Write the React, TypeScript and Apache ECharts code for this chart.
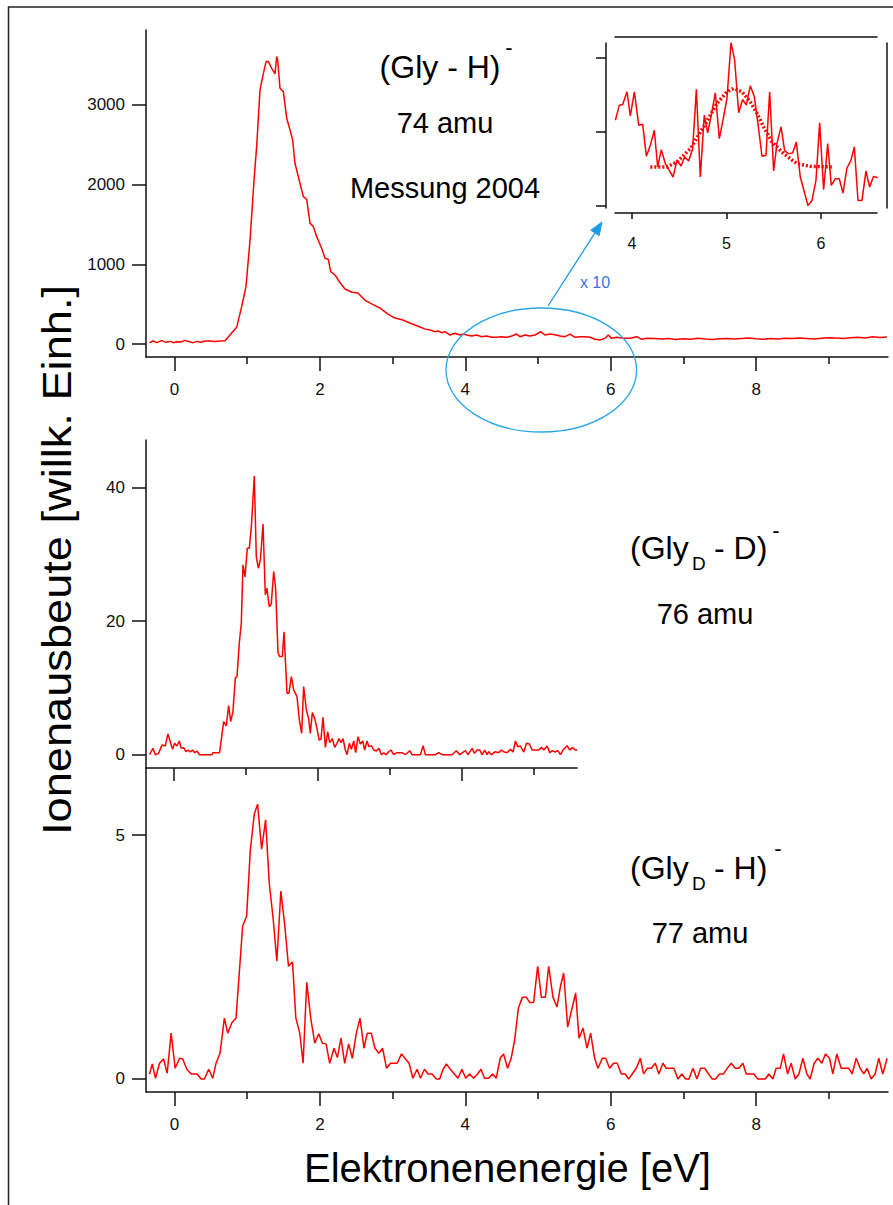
import React, { useEffect, useRef } from "react";
import * as echarts from "echarts";

const FONT = '"Liberation Sans", Arial, Helvetica, sans-serif';
const RED = "#ff0000";
const AX = "#111111";

// ---- Panel 1: (Gly - H)-, 74 amu ----
const topEnergy = [
  -0.346, -0.291, -0.245, -0.177, -0.117, -0.053, -0.016, 0.03, 0.085, 0.145, 0.204, 0.259, 0.314, 0.36, 0.42, 0.488, 0.557, 0.626, 0.695,
  0.763, 0.855, 0.924, 0.983, 1.039, 1.094, 1.13, 1.176, 1.213, 1.259, 1.291, 1.337, 1.382, 1.405, 1.419, 1.451, 1.497, 1.543, 1.589, 1.625,
  1.657, 1.703, 1.772, 1.818, 1.864, 1.91, 1.956, 2.024, 2.07, 2.116, 2.148, 2.208, 2.267,
  2.345, 2.442, 2.524, 2.62, 2.717, 2.827, 2.937, 3.033, 3.143, 3.239, 3.377, 3.44,
  3.514, 3.583, 3.629, 3.675, 3.721, 3.79, 3.858, 3.927, 3.973, 4.019, 4.088, 4.156, 4.225, 4.294, 4.363, 4.431, 4.5, 4.569, 4.638, 4.707,
  4.752, 4.821, 4.89, 4.959, 5.037, 5.096, 5.165, 5.234, 5.303, 5.371, 5.44, 5.509, 5.578, 5.647, 5.715, 5.784, 5.853, 5.922, 5.967, 6.014,
  6.083, 6.174, 6.265, 6.358, 6.426, 6.495,
  6.6, 6.7, 6.8, 6.9, 7.0, 7.1, 7.2, 7.3, 7.4, 7.5, 7.6, 7.7, 7.8, 7.9, 8.0, 8.1, 8.2, 8.3, 8.4, 8.5, 8.6, 8.7, 8.8, 8.9, 9.0, 9.1, 9.2,
  9.3, 9.4, 9.5, 9.6, 9.7, 9.8,
];
const topYield = [
  17, 38, 17, 42, 21, 33, 17, 29, 25, 46, 29, 17, 33, 21, 38, 38, 33, 38, 42,
  113, 209, 469, 720, 1305, 2059, 2477, 3188, 3356, 3544, 3544, 3460, 3389, 3607, 3565, 3209, 3167, 2833, 2686, 2561,
  2268, 2100, 1849, 1816, 1515, 1473, 1347, 1201, 1075, 1063, 908, 866, 782,
  690, 650, 640, 550, 500, 450, 376, 326, 300, 263, 213, 190,
  176, 155, 163, 142, 155, 113, 134, 113, 125, 113, 100, 113, 92, 100, 84, 84, 92, 84, 100, 125,
  92, 113, 100, 113, 155, 113, 125, 117, 100, 92, 125, 84, 92, 92, 84, 59, 50, 71, 113, 71,
  84, 71, 71, 92, 59, 71,
  70, 62, 68, 58, 66, 60, 72, 64, 58, 66, 70, 62, 68, 74, 66, 60, 70, 64, 72, 68, 76, 70, 64, 72, 80, 74, 68,
  78, 84, 76, 90, 82, 88,
];

// ---- Inset (x 10) ----
const insetEnergy = [
  3.824, 3.866, 3.901, 3.947, 3.982, 4.025, 4.071, 4.113, 4.152, 4.194, 4.236, 4.272, 4.31, 4.353, 4.395, 4.434, 4.476, 4.519, 4.557, 4.6,
  4.642, 4.681, 4.723, 4.765, 4.801, 4.84, 4.882, 4.924, 4.963, 5.005, 5.048, 5.086, 5.129, 5.171, 5.21, 5.252, 5.295, 5.333, 5.376, 5.418,
  5.457, 5.499, 5.534, 5.577, 5.616, 5.658, 5.7, 5.739, 5.781, 5.824, 5.862, 5.905, 5.947, 5.986, 6.028, 6.071, 6.109, 6.152, 6.194, 6.233,
  6.275, 6.317, 6.353, 6.392, 6.434, 6.476, 6.515, 6.557, 6.6,
];
const insetYield = [
  1.151, 1.354, 1.363, 1.535, 1.21, 1.535, 1.084, 1.097, 0.664, 0.813, 1.016, 0.519, 0.754, 0.564, 0.474, 0.384, 0.609, 0.533, 0.655, 0.6,
  0.767, 1.567, 0.384, 1.219, 0.98, 1.228, 1.521, 0.903, 1.151, 1.445, 2.199, 1.964, 1.251, 1.431, 1.354, 1.616, 1.467, 1.106, 0.664, 0.677,
  1.535, 0.465, 0.835, 1.061, 0.736, 0.7, 0.709, 0.858, 0.384, 0.181, 0.0, 0.068, 0.339, 1.115, 0.212, 0.835, 0.271, 0.361, 0.361, 0.167,
  0.506, 0.609, 0.79, 0.068, 0.068, 0.465, 0.248, 0.393, 0.375,
];
const fitEnergy = [4.194, 4.37, 4.476, 4.617, 4.758, 4.899, 5.005, 5.076, 5.164, 5.252, 5.323, 5.393, 5.481, 5.605, 5.746, 5.887, 6.134];
const fitYield = [0.519, 0.519, 0.587, 0.767, 1.061, 1.377, 1.535, 1.58, 1.535, 1.399, 1.242, 1.061, 0.858, 0.7, 0.564, 0.528, 0.519];

// ---- Panel 2: (GlyD - D)-, 76 amu ----
const midEnergy = [
  -0.333, -0.287, -0.254, -0.208, -0.162, -0.116, -0.079, -0.046, -0.014, 0.014,
  0.046, 0.079, 0.106, 0.139, 0.171, 0.199, 0.231, 0.264, 0.291, 0.324,
  0.356, 0.532, 0.546, 0.638, 0.694, 0.731, 0.763, 0.791, 0.823, 0.856,
  0.879, 0.911, 0.939, 0.962, 0.99, 1.022, 1.05, 1.078, 1.119, 1.147,
  1.175, 1.203, 1.24, 1.272, 1.295, 1.327, 1.355, 1.388, 1.415, 1.448,
  1.471, 1.508, 1.531, 1.573, 1.6, 1.633, 1.665, 1.711, 1.744, 1.776,
  1.804, 1.841, 1.873, 1.896, 1.924, 1.957, 1.989, 2.017, 2.044, 2.072,
  2.105, 2.137, 2.165, 2.202, 2.234, 2.266, 2.294, 2.322, 2.35, 2.382,
  2.405, 2.438, 2.465, 2.498, 2.525, 2.558, 2.59, 2.623, 2.65, 2.683,
  2.71, 2.743, 2.775, 2.812, 2.849, 2.882, 2.914, 2.946, 2.979, 3.016,
  3.053, 3.099, 3.168, 3.215, 3.275, 3.307, 3.423, 3.46, 3.492, 3.631,
  3.677, 3.723, 3.862, 3.922, 3.969, 4.047, 4.084, 4.14, 4.172, 4.209,
  4.246, 4.278, 4.315, 4.348, 4.371, 4.408, 4.463, 4.51, 4.542, 4.579,
  4.625, 4.672, 4.709, 4.741, 4.773, 4.81, 4.857, 4.894, 4.935, 4.972,
  5.065, 5.102, 5.134, 5.18, 5.217, 5.254, 5.291, 5.328, 5.365, 5.402,
  5.458, 5.495, 5.532, 5.569, 5.597,
];
const midYield = [
  0, 0.95, 0, 0.2, 1.45, 1.3, 3.1, 1.95, 0.8, 1.7,
  1.3, 2.05, 0.95, 1.05, 0.45, 0.7, 0.4, 0.7, 0.3, 0.55,
  0, 0, 0.3, 0.3, 4.95, 4.3, 7.35, 4.95, 6.45, 11.5,
  11.7, 16.7, 19.7, 28.4, 26.6, 30.9, 30.9, 34.1, 41.7, 29.6,
  27.9, 29.1, 34.5, 23.9, 24.9, 22.1, 22.6, 27.4, 24.9, 15.3,
  14.7, 14.7, 18.4, 9.2, 9.2, 11.7, 9.7, 8.7, 5.2, 3.2,
  10.2, 6.7, 5.4, 3.2, 6.3, 5.4, 3.9, 2.2, 2.3, 5.6,
  1.1, 3.4, 1.8, 2.4, 1.1, 1.7, 2.4, 1.8, 2.4, 0.7,
  0, 1.7, 0.8, 2.05, 0.3, 2.7, 1.6, 2.05, 0.7, 2.05,
  1.2, 1.35, 0.7, 0.55, 0.95, 0, 0.3, 0, 0.4, 0.7,
  0, 0.3, 0.3, 0, 0.6, 0, 0, 1.35, 0, 0,
  0.3, 0, 0, 0.6, 0, 0.6, 0, 0.95, 0.2, 0.7,
  0.7, 0, 0.7, 0, 0.45, 0, 0.45, 0.3, 0.7, 0.45,
  0.3, 0.8, 0.4, 2.05, 1.2, 1.3, 0.4, 1.7, 1.6, 0.7,
  0.7, 1.1, 0.7, 1.3, 0.3, 0.6, 0.4, 0.6, 0, 0.7,
  1.35, 0.7, 1.1, 0.7, 0.7,
];

// ---- Panel 3: (GlyD - H)-, 77 amu ----
const botEnergy = [
  -0.343, -0.306, -0.261, -0.206, -0.151, -0.101, -0.046, 0.009, 0.069, 0.114,
  0.169, 0.229, 0.311, 0.366, 0.411, 0.471, 0.526, 0.571, 0.626, 0.686,
  0.731, 0.791, 0.846, 0.891, 0.937, 0.992, 1.042, 1.097, 1.143, 1.198,
  1.253, 1.303, 1.358, 1.408, 1.463, 1.518, 1.568, 1.623, 1.669, 1.723,
  1.769, 1.819, 1.874, 1.929, 1.984, 2.034, 2.085, 2.135, 2.194, 2.24,
  2.29, 2.341, 2.395, 2.446, 2.501, 2.551, 2.606, 2.651, 2.706, 2.757,
  2.811, 2.862, 2.917, 2.971, 3.063, 3.122, 3.177, 3.227, 3.278, 3.337,
  3.383, 3.438, 3.488, 3.543, 3.602, 3.648, 3.694, 3.739, 3.794, 3.849,
  3.899, 3.954, 4.005, 4.059, 4.114, 4.169, 4.215, 4.265, 4.32, 4.375,
  4.425, 4.48, 4.526, 4.581, 4.631,
  4.679, 4.73, 4.785, 4.84, 4.885, 4.94, 4.995, 5.046, 5.101, 5.147,
  5.206, 5.261, 5.307, 5.353, 5.408, 5.463, 5.518, 5.564, 5.619, 5.674,
  5.724, 5.779, 5.825, 5.884, 5.93, 5.985, 6.04, 6.09, 6.145, 6.2,
  6.246, 6.296, 6.352, 6.407, 6.452, 6.503, 6.558, 6.613, 6.663, 6.718,
  6.764, 6.819, 6.869, 6.924, 6.979, 7.03, 7.076, 7.131, 7.186, 7.236,
  7.291, 7.346, 7.396, 7.442, 7.497, 7.552, 7.603, 7.658, 7.713, 7.763,
  7.818, 7.864, 7.919, 7.969, 8.024, 8.07, 8.125, 8.175, 8.23, 8.276,
  8.331, 8.377, 8.432, 8.482, 8.537, 8.588, 8.643, 8.698, 8.743, 8.798,
  8.849, 8.904, 8.954, 9.009, 9.055, 9.11, 9.17, 9.224, 9.275, 9.321,
  9.376, 9.431, 9.481, 9.527, 9.582, 9.637, 9.687, 9.742, 9.802,
];
const botYield = [
  0.096, 0.309, 0.014, 0.322, 0.412, 0.117, 0.94, 0.219, 0.425, 0.412,
  0.199, 0.103, 0.103, 0, 0, 0.199, 0.014, 0.322, 0.528, 1.248,
  0.94, 1.159, 1.248, 2.174, 3.134, 3.34, 4.678, 5.432, 5.638, 4.712,
  5.316, 4.026, 3.272, 2.414, 3.855, 3.134, 2.311, 2.401, 1.248, 0.94,
  0.322, 1.982, 1.248, 0.734, 0.926, 0.734, 0.72, 0.322, 0.631, 0.439,
  0.837, 0.322, 0.72, 0.425, 0.94, 1.248, 0.631, 0.94, 0.94, 0.631,
  0.528, 0.631, 0.219, 0.322, 0.322, 0.514, 0.412, 0.322, 0.014, 0.199,
  0.014, 0.199, 0.103, 0.103, 0, 0, 0.199, 0.309, 0.199, 0.103,
  0.014, 0.199, 0.014, 0.103, 0.014, 0.103, 0.199, 0.014, 0.014, 0.103,
  0.014, 0.425, 0.514, 0.219, 0.425,
  0.802, 1.454, 1.674, 1.674, 1.571, 1.571, 2.312, 1.674, 1.674, 2.312,
  1.674, 1.475, 1.886, 2.174, 1.063, 1.42, 1.763, 0.837, 1.043, 0.631,
  0.94, 0.425, 0.219, 0.425, 0.425, 0.219, 0.322, 0.322, 0.103, 0.103,
  0, 0.103, 0.219, 0.425, 0.103, 0.219, 0.219, 0.322, 0.103, 0.322,
  0.219, 0.219, 0.219, 0, 0.103, 0, 0, 0.219, 0, 0.219,
  0.219, 0.103, 0, 0, 0.103, 0.103, 0.219, 0.322, 0.219, 0.219,
  0.322, 0.103, 0.103, 0.103, 0, 0, 0, 0.103, 0, 0.219,
  0.219, 0.514, 0.103, 0.322, 0, 0.103, 0.425, 0.103, 0, 0.322,
  0.425, 0.322, 0.514, 0.425, 0.103, 0.514, 0.219, 0.219, 0.219, 0.103,
  0.425, 0.219, 0.103, 0.219, 0, 0.103, 0.425, 0.103, 0.425,
];

// ---- Tick values ----
const energyMajorTicks = [0, 2, 4, 6, 8];
const energyMinorTicks = [1, 3, 5, 7, 9];
const midMajorTicks = [0, 2, 4];
const midMinorTicks = [1, 3, 5];
const topYTicks = [0, 1000, 2000, 3000];
const midYTicks = [0, 20, 40];
const botYTicks = [0, 5];
const insetXTicks = [4, 5, 6];
const insetYTicks = [0, 1, 2];

function zip(xs: number[], ys: number[]) {
  return xs.map((x, i) => [x, ys[i]]);
}

export default function App() {
  const ref = useRef<HTMLDivElement>(null);

  useEffect(() => {
    document.body.style.margin = "0";
    const chart = echarts.init(ref.current!, null, { renderer: "svg" });
    const fmt = (v: number) => String(v);
    const lineStyle = { color: AX, width: 1.5 };

    const xAx = (
      gridIndex: number,
      min: number,
      max: number,
      ticks: number[],
      tickLen: number,
      labels: number[] | null,
      showLine: boolean,
      extra: any = {}
    ) => ({
      type: "value",
      gridIndex,
      min,
      max,
      position: "bottom",
      axisLine: { show: showLine, onZero: false, lineStyle },
      splitLine: { show: false },
      axisTick: { show: ticks.length > 0, inside: false, length: tickLen, customValues: ticks, lineStyle },
      axisLabel: labels
        ? { show: true, customValues: labels, margin: 24, fontSize: 17, fontFamily: FONT, color: "#111", formatter: fmt }
        : { show: false },
      ...extra,
    });

    const yAx = (
      gridIndex: number,
      min: number,
      max: number,
      ticks: number[],
      tickLen: number,
      labels: number[] | null,
      extra: any = {}
    ) => ({
      type: "value",
      gridIndex,
      min,
      max,
      position: "left",
      axisLine: { show: true, onZero: false, lineStyle },
      splitLine: { show: false },
      axisTick: { show: ticks.length > 0, inside: false, length: tickLen, customValues: ticks, lineStyle },
      axisLabel: labels
        ? { show: true, customValues: labels, margin: 21, fontSize: 17, fontFamily: FONT, color: "#111", formatter: fmt }
        : { show: false },
      ...extra,
    });

    const line = (data: number[][], xi: number, yi: number, extra: any = {}) => ({
      type: "line",
      xAxisIndex: xi,
      yAxisIndex: yi,
      data,
      symbol: "none",
      showSymbol: false,
      silent: true,
      clip: true,
      lineStyle: { color: RED, width: 1.5 },
      ...extra,
    });

    const txt = (text: string, x: number, y: number, fontSize: number, align = "center", extra: any = {}) => ({
      type: "text",
      x,
      y,
      z: 50,
      silent: true,
      style: { text, fontSize, fontFamily: FONT, fill: "#000", align, verticalAlign: "middle" },
      ...extra,
    });

    // arrow geometry
    const a0 = [548, 306];
    const tip = [602, 222];
    const dx = tip[0] - a0[0];
    const dy = tip[1] - a0[1];
    const len = Math.hypot(dx, dy);
    const ux = dx / len;
    const uy = dy / len;
    const headL = 13;
    const headW = 5;
    const bx = tip[0] - ux * headL;
    const by = tip[1] - uy * headL;
    const px = -uy;
    const py = ux;
    const ARROW = "#1f9be6";

    chart.setOption({
      animation: false,
      grid: [
        { left: 146, top: 30, width: 742, height: 327, outerBoundsMode: "none" },
        { left: 146, top: 440, width: 431, height: 328, outerBoundsMode: "none" },
        { left: 146, top: 768, width: 742, height: 324, outerBoundsMode: "none" },
        { left: 615, top: 43, width: 262, height: 165, outerBoundsMode: "none" },
      ],
      xAxis: [
        xAx(0, -0.392, 9.814, energyMajorTicks, 14, energyMajorTicks, true),
        xAx(0, -0.392, 9.814, energyMinorTicks, 7, null, false),
        xAx(1, -0.383, 5.595, midMajorTicks, 13, null, true),
        xAx(1, -0.383, 5.595, midMinorTicks, 7, null, false),
        xAx(2, -0.392, 9.814, energyMajorTicks, 14, energyMajorTicks, true),
        xAx(2, -0.392, 9.814, energyMinorTicks, 7, null, false),
        xAx(3, 3.82, 6.593, insetXTicks, 6, insetXTicks, true, {
          offset: 5,
          axisLabel: { show: true, customValues: insetXTicks, margin: 22, fontSize: 16, fontFamily: FONT, color: "#111", formatter: fmt },
        }),
        xAx(3, 3.82, 6.593, [], 0, null, true, { position: "top", offset: 6 }),
      ],
      yAxis: [
        yAx(0, -163, 3940, topYTicks, 14, topYTicks),
        yAx(1, -1.99, 47.08, midYTicks, 14, midYTicks),
        yAx(2, -0.267, 6.379, botYTicks, 14, botYTicks),
        yAx(3, -0.034, 2.193, insetYTicks, 10, null, { offset: 9 }),
        yAx(3, -0.034, 2.193, [], 0, null, { position: "right", offset: 10 }),
      ],
      series: [
        line(zip(topEnergy, topYield), 0, 0),
        line(zip(midEnergy, midYield), 2, 1),
        line(zip(botEnergy, botYield), 4, 2),
        line(zip(insetEnergy, insetYield), 6, 3),
        line(zip(fitEnergy, fitYield), 6, 3, { lineStyle: { color: RED, width: 3.5, type: [2, 2] }, smooth: false }),
      ],
      graphic: [
        {
          type: "rect",
          silent: true,
          shape: { x: 8.5, y: 7, width: 1000, height: 1400 },
          style: { fill: "none", stroke: "#222", lineWidth: 1.5 },
        },
        // panel 1 annotations
        txt("(Gly - H)", 440, 67, 32),
        txt("-", 509, 47, 22),
        txt("74 amu", 445, 123, 29),
        txt("Messung 2004", 445, 188, 29),
        // panel 2 annotations
        txt("(Gly", 630, 548, 32, "left"),
        txt("D", 692, 563.5, 19, "left"),
        txt("- D)", 714, 548, 32, "left"),
        txt("-", 776, 530, 22),
        txt("76 amu", 705, 613.5, 29),
        // panel 3 annotations
        txt("(Gly", 630, 868, 32, "left"),
        txt("D", 692, 883.5, 19, "left"),
        txt("- H)", 714, 868, 32, "left"),
        txt("-", 778, 848, 22),
        txt("77 amu", 700, 933, 29),
        // axis titles
        txt("Ionenausbeute [willk. Einh.]", 57, 560, 40, "center", { rotation: Math.PI / 2, scaleX: 1.13 }),
        txt("Elektronenenergie [eV]", 507.5, 1168, 40),
        // magnification marker
        {
          type: "ellipse",
          z: 60,
          silent: true,
          shape: { cx: 541.3, cy: 370, rx: 95.3, ry: 62 },
          style: { fill: "none", stroke: "#2aa6e6", lineWidth: 1.3 },
        },
        {
          type: "line",
          z: 60,
          silent: true,
          shape: { x1: a0[0], y1: a0[1], x2: bx, y2: by },
          style: { stroke: ARROW, lineWidth: 1.3 },
        },
        {
          type: "polygon",
          z: 60,
          silent: true,
          shape: {
            points: [
              [tip[0], tip[1]],
              [bx + px * headW, by + py * headW],
              [bx - px * headW, by - py * headW],
            ],
          },
          style: { fill: ARROW, stroke: ARROW, lineWidth: 1 },
        },
        {
          type: "text",
          x: 595,
          y: 282,
          z: 60,
          silent: true,
          style: { text: "x 10", fontSize: 16, fontFamily: FONT, fill: "#3f6fe0", align: "center", verticalAlign: "middle" },
        },
      ],
    });

    return () => chart.dispose();
  }, []);

  return <div ref={ref} style={{ width: 893, height: 1205 }} />;
}
